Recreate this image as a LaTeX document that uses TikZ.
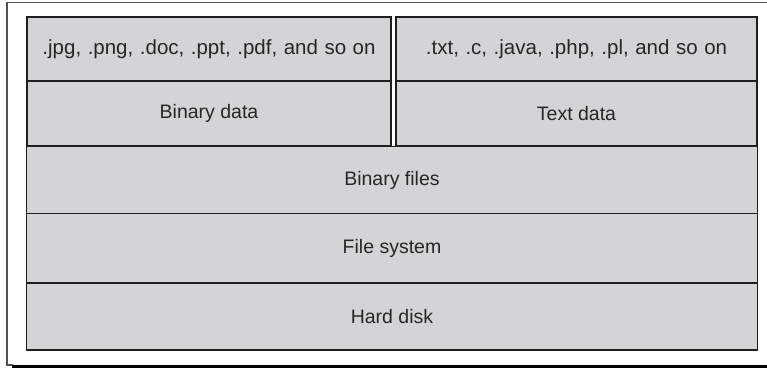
\documentclass[tikz,border=0pt]{standalone}
\usepackage{fontspec}
\setmainfont{Liberation Sans}
\newfontfamily\widesans[WordSpace=1.15]{Liberation Sans}
\definecolor{boxfill}{RGB}{212,212,214}
\definecolor{boxline}{RGB}{30,30,30}
\definecolor{frameline}{RGB}{80,80,80}
\begin{document}
\begin{tikzpicture}[x=1pt,y=-1pt,
  layer/.style={draw=boxline,fill=boxfill,line width=1.4pt,inner sep=0pt,
    font=\fontsize{19.5}{22}\selectfont,text=black!85},
  extlayer/.style={layer,font=\widesans\fontsize{20.5}{22}\selectfont}]
\useasboundingbox (0,0) rectangle (767,368);
% outer frame
\coordinate (ftl) at (7,2.5);
\coordinate (ftr) at (767,2.5);
\coordinate (fbl) at (7,365);
\coordinate (fbr) at (13,365);
\coordinate (tbl) at (12,366.5);
\coordinate (tbr) at (767,366.5);
\draw[frameline,line width=1.5pt] (ftr) -- (ftl) -- (fbl) -- (fbr);
\draw[black,line width=3pt] (tbl) -- (tbr);
% layers
\node[extlayer,minimum width=364,minimum height=64] (fmtb) at (209,49) {.jpg, .png, .doc, .ppt, .pdf, and so on};
\node[extlayer,minimum width=361,minimum height=64] (fmtt) at (576.5,49) {.txt, .c, .java, .php, .pl, and so on};
\node[layer,minimum width=364,minimum height=65] (bindata) at (209,113.5) {Binary data};
\node[layer,minimum width=361,minimum height=65] (textdata) at (576.5,113.5) {Text data};
\node[layer,minimum width=731,minimum height=67] (binfiles) at (392,180) {Binary files};
\node[layer,minimum width=731,minimum height=69] (fs) at (392,248) {File system};
\node[layer,minimum width=731,minimum height=67] (hd) at (392,316.5) {Hard disk};
\end{tikzpicture}
\end{document}
